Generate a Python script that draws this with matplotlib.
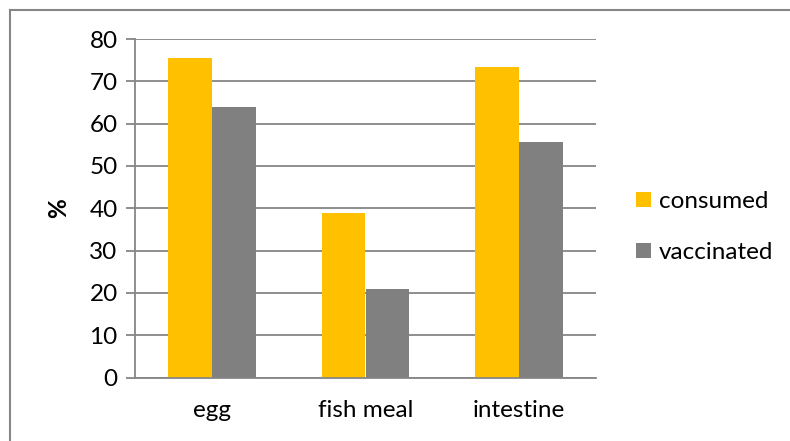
"""Bar chart: share consumed vs vaccinated per feed type (Excel-style)."""
import matplotlib
matplotlib.use("Agg")
import matplotlib.pyplot as plt
from matplotlib.lines import Line2D
import numpy as np

categories = ["egg", "fish meal", "intestine"]
consumed = [75.4, 38.8, 73.3]
vaccinated = [64.0, 20.9, 55.7]
series_labels = ["consumed", "vaccinated"]
y_ticks = [0, 10, 20, 30, 40, 50, 60, 70, 80]

YELLOW = "#FFC000"
GREY = "#808080"
LINE = "#868686"
FS = 17.5

plt.rcParams["font.family"] = ["Lato", "DejaVu Sans"]

W, H = 790, 441
fig = plt.figure(figsize=(W / 100, H / 100), dpi=100)
ax = fig.add_axes([135 / W, 1 - 377.5 / H, (596 - 135) / W, (377.5 - 39) / H])

x = np.arange(len(categories))
width = 1 / 3.5  # excel gap width 150%
ax.bar(x - width / 2, consumed, width, color=YELLOW, label=series_labels[0], zorder=3)
ax.bar(x + width / 2, vaccinated, width, color=GREY, label=series_labels[1], zorder=3)

ax.set_xlim(-0.5, len(categories) - 0.5)
ax.set_ylim(0, 80)
ax.set_yticks(y_ticks)
ax.set_xticks(x)
ax.set_xticklabels(categories)
ax.tick_params(axis="y", length=6.5, width=1.3, color=LINE, labelsize=FS, pad=6)
ax.tick_params(axis="x", length=0, labelsize=FS, pad=16)
ax.grid(axis="y", color=LINE, linewidth=1.3, zorder=0)
for side in ("top", "right"):
    ax.spines[side].set_visible(False)
for side in ("left", "bottom"):
    ax.spines[side].set_color(LINE)
    ax.spines[side].set_linewidth(1.3)
    ax.spines[side].set_zorder(4)
ax.set_ylabel("%", fontsize=FS, fontweight="bold", labelpad=14)

leg = ax.legend(loc="center left", bbox_to_anchor=(636 / W, 1 - 227 / H),
                bbox_transform=fig.transFigure, frameon=False, fontsize=FS,
                handlelength=0.6, handleheight=0.6, handletextpad=0.35,
                labelspacing=1.25, borderaxespad=0, borderpad=0)

# outer chart-area border (only top and left fall inside the crop)
fig.add_artist(Line2D([9.5 / W, 9.5 / W], [0, 1 - 9.5 / H], transform=fig.transFigure,
                      color=LINE, linewidth=1.5))
fig.add_artist(Line2D([9.5 / W, 1], [1 - 9.5 / H, 1 - 9.5 / H], transform=fig.transFigure,
                      color=LINE, linewidth=1.5))

fig.savefig("out.png", dpi=100)
